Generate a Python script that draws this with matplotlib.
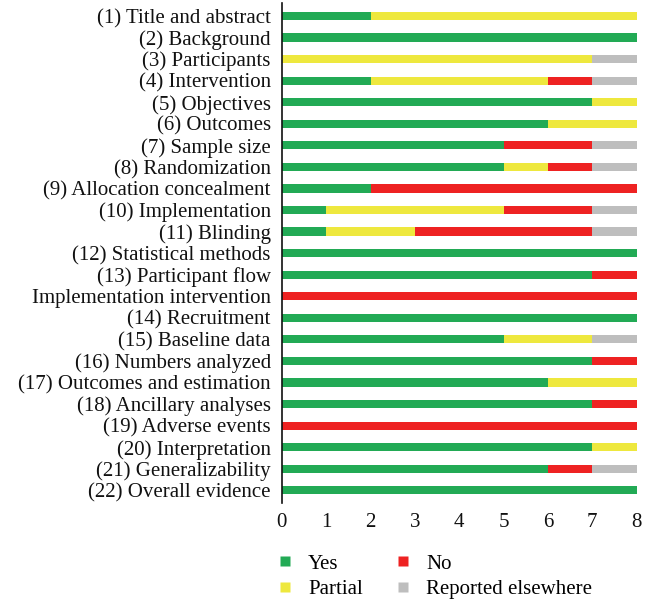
import matplotlib
matplotlib.use("Agg")
import matplotlib.pyplot as plt
from matplotlib.lines import Line2D
import numpy as np

categories = [
    "(1) Title and abstract", "(2) Background", "(3) Participants", "(4) Intervention",
    "(5) Objectives", "(6) Outcomes", "(7) Sample size", "(8) Randomization",
    "(9) Allocation concealment", "(10) Implementation", "(11) Blinding",
    "(12) Statistical methods", "(13) Participant flow", "Implementation intervention",
    "(14) Recruitment", "(15) Baseline data", "(16) Numbers analyzed",
    "(17) Outcomes and estimation", "(18) Ancillary analyses", "(19) Adverse events",
    "(20) Interpretation", "(21) Generalizability", "(22) Overall evidence",
]
yes      = [2, 8, 0, 2, 7, 6, 5, 5, 2, 1, 1, 8, 7, 0, 8, 5, 7, 6, 7, 0, 7, 6, 8]
partial  = [6, 0, 7, 4, 1, 2, 0, 1, 0, 4, 2, 0, 0, 0, 0, 2, 0, 2, 0, 0, 1, 0, 0]
no       = [0, 0, 0, 1, 0, 0, 2, 1, 6, 2, 4, 0, 1, 8, 0, 0, 1, 0, 1, 8, 0, 1, 0]
reported = [0, 0, 1, 1, 0, 0, 1, 1, 0, 1, 1, 0, 0, 0, 0, 1, 0, 0, 0, 0, 0, 1, 0]
series_names = ["Yes", "Partial", "No", "Reported elsewhere"]
colors = ["#22AA55", "#EEE83E", "#EE2222", "#BEBEBE"]
xticks = [0, 1, 2, 3, 4, 5, 6, 7, 8]

plt.rcParams['font.family'] = ['Liberation Serif', 'DejaVu Serif']
FS = 15

fig = plt.figure(figsize=(6.51, 6.02), dpi=100)
ax = fig.add_axes([0.433, 0.164, 0.545, 0.831])

y = np.arange(len(categories))
left = np.zeros(len(categories))
for vals, col in zip([yes, partial, no, reported], colors):
    v = np.array(vals, dtype=float)
    ax.barh(y, v, left=left, height=0.38, color=col, edgecolor='none')
    left += v

ax.set_ylim(len(categories) - 0.4, -0.6)
ax.set_xlim(0, 8)
ax.set_yticks(y)
ax.set_yticklabels(categories, fontsize=FS, color='#111111')
ax.set_xticks(xticks)
ax.set_xticklabels([str(t) for t in xticks], fontsize=FS, color='#111111')
ax.tick_params(axis='y', length=0, pad=8)
ax.tick_params(axis='x', length=0, pad=7)
for s in ['top', 'right', 'bottom']:
    ax.spines[s].set_visible(False)
ax.spines['left'].set_linewidth(1.2)
ax.spines['left'].set_color('#111111')

handles = [Line2D([], [], marker='s', linestyle='none', markersize=7,
                  markerfacecolor=c, markeredgecolor='none') for c in colors]
fig.legend(handles, series_names, ncol=2, loc='upper left',
           bbox_to_anchor=(0.393, 0.111), frameon=False, fontsize=FS,
           handletextpad=0.6, columnspacing=1.45, labelspacing=0.3, handlelength=1.0)

fig.savefig("out.png", dpi=100)
